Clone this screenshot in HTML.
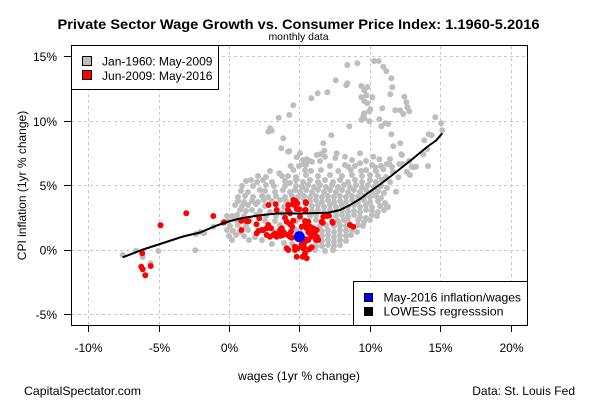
<!DOCTYPE html>
<html><head><meta charset="utf-8"><style>
html,body{margin:0;padding:0;background:#fff;}
svg{display:block;}
text{font-family:"Liberation Sans",Arial,sans-serif;fill:#000;}
</style></head><body>
<svg width="600" height="400" viewBox="0 0 600 400" xmlns="http://www.w3.org/2000/svg">
<rect width="600" height="400" fill="#fff"/>
<g stroke="#c8c8c8" stroke-width="1" stroke-dasharray="3,3" fill="none">
<line x1="88.5" y1="46" x2="88.5" y2="325"/>
<line x1="159.5" y1="46" x2="159.5" y2="325"/>
<line x1="229.5" y1="46" x2="229.5" y2="325"/>
<line x1="299.5" y1="46" x2="299.5" y2="325"/>
<line x1="370.5" y1="46" x2="370.5" y2="325"/>
<line x1="440.5" y1="46" x2="440.5" y2="325"/>
<line x1="511.5" y1="46" x2="511.5" y2="325"/>
<line x1="72" y1="56.5" x2="527" y2="56.5"/>
<line x1="72" y1="121.5" x2="527" y2="121.5"/>
<line x1="72" y1="185.5" x2="527" y2="185.5"/>
<line x1="72" y1="250.5" x2="527" y2="250.5"/>
<line x1="72" y1="314.5" x2="527" y2="314.5"/>
</g>
<g fill="#bebebe">
<circle cx="347.3" cy="65" r="3"/><circle cx="357.3" cy="63.3" r="3"/><circle cx="374" cy="61" r="3"/><circle cx="378.7" cy="61" r="3"/><circle cx="383.3" cy="66.7" r="3"/><circle cx="386.3" cy="71.3" r="3"/><circle cx="391.3" cy="78.3" r="3"/><circle cx="335.7" cy="80.3" r="3"/><circle cx="347.3" cy="83.3" r="3"/><circle cx="346.3" cy="85.3" r="3"/><circle cx="361.3" cy="86" r="3"/><circle cx="367.3" cy="87" r="3"/><circle cx="364.3" cy="90.3" r="3"/><circle cx="392.3" cy="87.3" r="3"/><circle cx="317.7" cy="93.3" r="3"/><circle cx="327.3" cy="92.3" r="3"/><circle cx="311.3" cy="98.3" r="3"/><circle cx="366.3" cy="95.3" r="3"/><circle cx="361.3" cy="97.3" r="3"/><circle cx="372.3" cy="97.3" r="3"/><circle cx="390.3" cy="94.3" r="3"/><circle cx="404.3" cy="96.7" r="3"/><circle cx="364.3" cy="101.3" r="3"/><circle cx="367.3" cy="103.3" r="3"/><circle cx="406.3" cy="102.3" r="3"/><circle cx="407.3" cy="107.3" r="3"/><circle cx="409.3" cy="111.3" r="3"/><circle cx="382.3" cy="108.3" r="3"/><circle cx="370.3" cy="109.3" r="3"/><circle cx="369.3" cy="111.3" r="3"/><circle cx="395.3" cy="110.3" r="3"/><circle cx="400.3" cy="110.3" r="3"/><circle cx="403.3" cy="114" r="3"/><circle cx="364.3" cy="113.3" r="3"/><circle cx="363.3" cy="116.3" r="3"/><circle cx="361.3" cy="120" r="3"/><circle cx="364.3" cy="118.3" r="3"/><circle cx="369.3" cy="121.3" r="3"/><circle cx="379.3" cy="119.3" r="3"/><circle cx="381.3" cy="126.3" r="3"/><circle cx="385.3" cy="123.3" r="3"/><circle cx="388.3" cy="124" r="3"/><circle cx="435.3" cy="117.3" r="3"/><circle cx="441.3" cy="123.3" r="3"/><circle cx="442.3" cy="130.3" r="3"/><circle cx="349.3" cy="126.3" r="3"/><circle cx="331.3" cy="135.3" r="3"/><circle cx="391.3" cy="134.3" r="3"/><circle cx="428.7" cy="134.3" r="3"/><circle cx="431.7" cy="135.3" r="3"/><circle cx="424.3" cy="140.3" r="3"/><circle cx="323.3" cy="143.3" r="3"/><circle cx="400.3" cy="143.3" r="3"/><circle cx="393.3" cy="146.3" r="3"/><circle cx="324.3" cy="150.7" r="3"/><circle cx="320.3" cy="154.3" r="3"/><circle cx="427.3" cy="149" r="3"/><circle cx="423.3" cy="154.3" r="3"/><circle cx="335.3" cy="158" r="3"/><circle cx="401.3" cy="154.3" r="3"/><circle cx="379.3" cy="159.3" r="3"/><circle cx="293.3" cy="105.3" r="3"/><circle cx="278.7" cy="117.7" r="3"/><circle cx="289.3" cy="115" r="3"/><circle cx="270" cy="128.3" r="3"/><circle cx="271.7" cy="130.7" r="3"/><circle cx="268.3" cy="131.7" r="3"/><circle cx="283.3" cy="138.3" r="3"/><circle cx="281.3" cy="148.3" r="3"/><circle cx="289.3" cy="151" r="3"/><circle cx="296.7" cy="157.3" r="3"/><circle cx="306.7" cy="159.3" r="3"/><circle cx="293.3" cy="170" r="3"/><circle cx="290.7" cy="166" r="3"/><circle cx="279.3" cy="173.3" r="3"/><circle cx="282" cy="176" r="3"/><circle cx="428" cy="166" r="3"/><circle cx="411.7" cy="166.7" r="3"/><circle cx="410" cy="175" r="3"/><circle cx="416" cy="166.7" r="3"/><circle cx="338.3" cy="171" r="3"/><circle cx="348.3" cy="166.7" r="3"/><circle cx="350.7" cy="170" r="3"/><circle cx="360" cy="163.3" r="3"/><circle cx="303.3" cy="164" r="3"/><circle cx="309.3" cy="160.7" r="3"/><circle cx="312" cy="161.7" r="3"/><circle cx="402" cy="155" r="3"/><circle cx="386.7" cy="164" r="3"/><circle cx="389.3" cy="164" r="3"/><circle cx="375.3" cy="167.3" r="3"/><circle cx="383.3" cy="169.3" r="3"/><circle cx="399.3" cy="164" r="3"/><circle cx="402.7" cy="164" r="3"/><circle cx="413.3" cy="167.3" r="3"/><circle cx="406.7" cy="171.7" r="3"/><circle cx="398.3" cy="177.3" r="3"/><circle cx="396" cy="191.7" r="3"/><circle cx="386.7" cy="206" r="3"/><circle cx="288" cy="151.7" r="3"/><circle cx="300" cy="153.3" r="3"/><circle cx="316.7" cy="155" r="3"/><circle cx="325" cy="156.7" r="3"/><circle cx="336.7" cy="153.3" r="3"/><circle cx="345" cy="156.7" r="3"/><circle cx="360" cy="153.3" r="3"/><circle cx="373.3" cy="156.7" r="3"/>
<circle cx="303" cy="160" r="3"/><circle cx="320" cy="161" r="3"/><circle cx="352" cy="160" r="3"/><circle cx="366" cy="161" r="3"/><circle cx="390" cy="159" r="3"/><circle cx="409" cy="161" r="3"/>
<circle cx="299" cy="166" r="3"/><circle cx="306" cy="165" r="3"/><circle cx="330" cy="166" r="3"/><circle cx="345" cy="165" r="3"/><circle cx="355" cy="166" r="3"/><circle cx="372" cy="165" r="3"/><circle cx="381" cy="166" r="3"/><circle cx="392" cy="167" r="3"/>
<circle cx="270" cy="171" r="3"/><circle cx="305" cy="170" r="3"/><circle cx="311" cy="171" r="3"/><circle cx="321" cy="170" r="3"/><circle cx="361" cy="171" r="3"/><circle cx="366" cy="170" r="3"/><circle cx="376" cy="171" r="3"/><circle cx="393" cy="172" r="3"/>
<circle cx="258" cy="176" r="3"/><circle cx="266" cy="177" r="3"/><circle cx="288" cy="176" r="3"/><circle cx="296" cy="177" r="3"/><circle cx="306" cy="175" r="3"/><circle cx="318" cy="176" r="3"/><circle cx="330" cy="175" r="3"/><circle cx="342" cy="176" r="3"/><circle cx="352" cy="175" r="3"/><circle cx="362" cy="176" r="3"/><circle cx="370" cy="175" r="3"/><circle cx="378" cy="176" r="3"/><circle cx="386" cy="177" r="3"/>
<circle cx="246" cy="181" r="3"/><circle cx="251" cy="180" r="3"/><circle cx="257" cy="182" r="3"/><circle cx="263" cy="180" r="3"/><circle cx="272" cy="182" r="3"/><circle cx="285" cy="181" r="3"/><circle cx="290" cy="183" r="3"/><circle cx="296" cy="180" r="3"/><circle cx="303" cy="182" r="3"/><circle cx="310" cy="180" r="3"/><circle cx="318" cy="182" r="3"/><circle cx="325" cy="180" r="3"/><circle cx="333" cy="182" r="3"/><circle cx="340" cy="180" r="3"/><circle cx="348" cy="182" r="3"/><circle cx="355" cy="180" r="3"/><circle cx="362" cy="182" r="3"/><circle cx="370" cy="180" r="3"/><circle cx="376" cy="182" r="3"/><circle cx="382" cy="180" r="3"/><circle cx="390" cy="182" r="3"/>
<circle cx="242" cy="186" r="3"/><circle cx="253" cy="186" r="3"/><circle cx="266" cy="185" r="3"/><circle cx="274" cy="186" r="3"/><circle cx="285" cy="186" r="3"/><circle cx="296" cy="186" r="3"/><circle cx="302" cy="187" r="3"/><circle cx="308" cy="185" r="3"/><circle cx="314" cy="187" r="3"/><circle cx="320" cy="185" r="3"/><circle cx="326" cy="187" r="3"/><circle cx="332" cy="185" r="3"/><circle cx="338" cy="187" r="3"/><circle cx="344" cy="185" r="3"/><circle cx="350" cy="187" r="3"/><circle cx="356" cy="185" r="3"/><circle cx="362" cy="187" r="3"/><circle cx="368" cy="185" r="3"/><circle cx="374" cy="187" r="3"/><circle cx="381" cy="186" r="3"/><circle cx="387" cy="188" r="3"/>
<circle cx="241" cy="191" r="3"/><circle cx="248" cy="192" r="3"/><circle cx="260" cy="190" r="3"/><circle cx="265" cy="191" r="3"/><circle cx="275" cy="192" r="3"/><circle cx="283" cy="190" r="3"/><circle cx="290" cy="192" r="3"/><circle cx="295" cy="190" r="3"/><circle cx="300" cy="192" r="3"/><circle cx="306" cy="190" r="3"/><circle cx="312" cy="192" r="3"/><circle cx="318" cy="190" r="3"/><circle cx="324" cy="192" r="3"/><circle cx="330" cy="190" r="3"/><circle cx="336" cy="192" r="3"/><circle cx="342" cy="190" r="3"/><circle cx="348" cy="192" r="3"/><circle cx="354" cy="190" r="3"/><circle cx="360" cy="192" r="3"/><circle cx="366" cy="190" r="3"/><circle cx="372" cy="192" r="3"/><circle cx="378" cy="191" r="3"/><circle cx="384" cy="193" r="3"/>
<circle cx="238" cy="197" r="3"/><circle cx="245" cy="196" r="3"/><circle cx="253" cy="197" r="3"/><circle cx="262" cy="196" r="3"/><circle cx="268" cy="197" r="3"/><circle cx="276" cy="196" r="3"/><circle cx="285" cy="197" r="3"/><circle cx="292" cy="196" r="3"/><circle cx="298" cy="197" r="3"/><circle cx="304" cy="196" r="3"/><circle cx="310" cy="197" r="3"/><circle cx="316" cy="196" r="3"/><circle cx="322" cy="197" r="3"/><circle cx="328" cy="196" r="3"/><circle cx="334" cy="197" r="3"/><circle cx="340" cy="196" r="3"/><circle cx="346" cy="197" r="3"/><circle cx="352" cy="196" r="3"/><circle cx="358" cy="197" r="3"/><circle cx="364" cy="196" r="3"/><circle cx="370" cy="197" r="3"/><circle cx="376" cy="196" r="3"/><circle cx="381" cy="198" r="3"/>
<circle cx="238" cy="201" r="3"/><circle cx="244" cy="202" r="3"/><circle cx="252" cy="201" r="3"/><circle cx="258" cy="202" r="3"/><circle cx="264" cy="200" r="3"/><circle cx="272" cy="201" r="3"/><circle cx="280" cy="200" r="3"/><circle cx="286" cy="201" r="3"/><circle cx="304" cy="199" r="3"/><circle cx="310" cy="201" r="3"/><circle cx="316" cy="200" r="3"/><circle cx="322" cy="202" r="3"/><circle cx="328" cy="200" r="3"/><circle cx="334" cy="202" r="3"/><circle cx="340" cy="201" r="3"/><circle cx="346" cy="202" r="3"/><circle cx="352" cy="200" r="3"/><circle cx="358" cy="202" r="3"/><circle cx="364" cy="200" r="3"/><circle cx="370" cy="202" r="3"/><circle cx="378" cy="201" r="3"/><circle cx="385" cy="203" r="3"/>
<circle cx="235" cy="205" r="3"/><circle cx="242" cy="206" r="3"/><circle cx="248" cy="205" r="3"/><circle cx="256" cy="204" r="3"/><circle cx="265" cy="206" r="3"/><circle cx="284" cy="207" r="3"/><circle cx="312" cy="206" r="3"/><circle cx="318" cy="205" r="3"/><circle cx="324" cy="207" r="3"/><circle cx="330" cy="205" r="3"/><circle cx="336" cy="207" r="3"/><circle cx="342" cy="205" r="3"/><circle cx="348" cy="207" r="3"/><circle cx="354" cy="205" r="3"/><circle cx="360" cy="207" r="3"/><circle cx="366" cy="205" r="3"/><circle cx="372" cy="207" r="3"/><circle cx="380" cy="206" r="3"/><circle cx="388" cy="207" r="3"/>
<circle cx="240" cy="210" r="3"/><circle cx="246" cy="211" r="3"/><circle cx="252" cy="210" r="3"/><circle cx="260" cy="211" r="3"/><circle cx="270" cy="212" r="3"/><circle cx="282" cy="213" r="3"/><circle cx="312" cy="211" r="3"/><circle cx="318" cy="210" r="3"/><circle cx="324" cy="212" r="3"/><circle cx="330" cy="210" r="3"/><circle cx="336" cy="212" r="3"/><circle cx="342" cy="210" r="3"/><circle cx="348" cy="212" r="3"/><circle cx="354" cy="211" r="3"/><circle cx="360" cy="212" r="3"/><circle cx="366" cy="210" r="3"/><circle cx="372" cy="211" r="3"/><circle cx="378" cy="212" r="3"/><circle cx="384" cy="210" r="3"/>
<circle cx="232" cy="216" r="3"/><circle cx="237" cy="215" r="3"/><circle cx="244" cy="216" r="3"/><circle cx="256" cy="215" r="3"/><circle cx="266" cy="216" r="3"/><circle cx="276" cy="216" r="3"/><circle cx="310" cy="216" r="3"/><circle cx="316" cy="215" r="3"/><circle cx="336" cy="216" r="3"/><circle cx="342" cy="215" r="3"/><circle cx="348" cy="217" r="3"/><circle cx="354" cy="215" r="3"/><circle cx="360" cy="217" r="3"/><circle cx="366" cy="218" r="3"/><circle cx="372" cy="215" r="3"/><circle cx="377" cy="216" r="3"/>
<circle cx="227" cy="216" r="3"/><circle cx="228" cy="221" r="3"/><circle cx="236" cy="220" r="3"/><circle cx="241" cy="221" r="3"/><circle cx="250" cy="220" r="3"/><circle cx="275" cy="221" r="3"/><circle cx="296" cy="221" r="3"/><circle cx="316" cy="220" r="3"/><circle cx="338" cy="221" r="3"/><circle cx="344" cy="220" r="3"/><circle cx="348" cy="222" r="3"/><circle cx="358" cy="220" r="3"/><circle cx="364" cy="222" r="3"/><circle cx="370" cy="220" r="3"/>
<circle cx="223" cy="223" r="3"/><circle cx="230" cy="226" r="3"/><circle cx="238" cy="225" r="3"/><circle cx="246" cy="226" r="3"/><circle cx="280" cy="225" r="3"/><circle cx="296" cy="230" r="3"/><circle cx="320" cy="226" r="3"/><circle cx="326" cy="225" r="3"/><circle cx="334" cy="226" r="3"/><circle cx="340" cy="225" r="3"/><circle cx="346" cy="226" r="3"/><circle cx="358" cy="225" r="3"/><circle cx="363" cy="226" r="3"/>
<circle cx="227" cy="230" r="3"/><circle cx="233" cy="231" r="3"/><circle cx="240" cy="232" r="3"/><circle cx="248" cy="230" r="3"/><circle cx="322" cy="231" r="3"/><circle cx="328" cy="230" r="3"/><circle cx="334" cy="232" r="3"/><circle cx="340" cy="230" r="3"/><circle cx="346" cy="231" r="3"/><circle cx="352" cy="230" r="3"/><circle cx="357" cy="232" r="3"/>
<circle cx="229" cy="236" r="3"/><circle cx="236" cy="235" r="3"/><circle cx="244" cy="236" r="3"/><circle cx="322" cy="236" r="3"/><circle cx="328" cy="235" r="3"/><circle cx="334" cy="237" r="3"/><circle cx="340" cy="235" r="3"/><circle cx="346" cy="236" r="3"/><circle cx="351" cy="235" r="3"/>
<circle cx="232" cy="240" r="3"/><circle cx="249" cy="240" r="3"/><circle cx="322" cy="241" r="3"/><circle cx="328" cy="240" r="3"/><circle cx="334" cy="242" r="3"/><circle cx="340" cy="240" r="3"/><circle cx="346" cy="241" r="3"/>
<circle cx="316" cy="246" r="3"/><circle cx="322" cy="246" r="3"/><circle cx="328" cy="245" r="3"/><circle cx="334" cy="246" r="3"/><circle cx="340" cy="245" r="3"/>
<circle cx="315" cy="250" r="3"/><circle cx="325" cy="251" r="3"/><circle cx="333" cy="250" r="3"/>
<circle cx="262" cy="240" r="3"/><circle cx="272" cy="244" r="3"/><circle cx="284" cy="243" r="3"/><circle cx="292" cy="244" r="3"/><circle cx="300" cy="232" r="3"/><circle cx="265" cy="221" r="3"/><circle cx="255" cy="237" r="3"/>
<circle cx="122.7" cy="255" r="3"/><circle cx="136" cy="250.7" r="3"/><circle cx="142.7" cy="257" r="3"/><circle cx="158.3" cy="251" r="3"/><circle cx="150.5" cy="263.3" r="3"/><circle cx="195.3" cy="250.3" r="3"/><circle cx="196" cy="234" r="3"/><circle cx="204" cy="233.3" r="3"/><circle cx="213.3" cy="226.7" r="3"/><circle cx="200" cy="232" r="3"/>
</g>
<g fill="#ff0000">
<circle cx="142.3" cy="253.3" r="3"/><circle cx="141.3" cy="266.7" r="3"/><circle cx="142.7" cy="269.3" r="3"/><circle cx="150.7" cy="266" r="3"/><circle cx="145.3" cy="275.3" r="3"/><circle cx="160.5" cy="225.2" r="3"/><circle cx="186.3" cy="213.3" r="3"/><circle cx="213.3" cy="216" r="3"/><circle cx="224" cy="222.3" r="3"/>
<circle cx="241.5" cy="230" r="3"/><circle cx="246.7" cy="221.3" r="3"/><circle cx="256.5" cy="224.2" r="3"/><circle cx="241.3" cy="220.7" r="3"/><circle cx="248.3" cy="221.3" r="3"/><circle cx="256.7" cy="233.3" r="3"/><circle cx="263.3" cy="230" r="3"/><circle cx="266.7" cy="228.3" r="3"/>
<circle cx="268.5" cy="205" r="3"/><circle cx="275.7" cy="204.3" r="3"/><circle cx="276.7" cy="210" r="3"/><circle cx="288.3" cy="205" r="3"/><circle cx="293.3" cy="200" r="3"/><circle cx="296" cy="201.7" r="3"/><circle cx="295" cy="205" r="3"/><circle cx="296.7" cy="209" r="3"/><circle cx="305.7" cy="202.3" r="3"/><circle cx="305.7" cy="210" r="3"/><circle cx="288.3" cy="211" r="3"/><circle cx="285" cy="217.7" r="3"/><circle cx="300" cy="216.7" r="3"/><circle cx="305" cy="221" r="3"/><circle cx="308.3" cy="221.7" r="3"/><circle cx="321.7" cy="221.7" r="3"/><circle cx="323.3" cy="216.7" r="3"/><circle cx="329" cy="215.7" r="3"/><circle cx="332.3" cy="221.7" r="3"/>
<circle cx="259.3" cy="218.3" r="3"/><circle cx="261.7" cy="230" r="3"/><circle cx="258.3" cy="231" r="3"/><circle cx="268.3" cy="225" r="3"/><circle cx="271" cy="228.3" r="3"/><circle cx="266.7" cy="235" r="3"/><circle cx="275" cy="233.3" r="3"/><circle cx="277.7" cy="235" r="3"/><circle cx="281" cy="235.7" r="3"/><circle cx="284.3" cy="233.3" r="3"/><circle cx="287.7" cy="235" r="3"/><circle cx="291" cy="231.7" r="3"/><circle cx="291.7" cy="237.7" r="3"/><circle cx="281.7" cy="228.3" r="3"/><circle cx="290" cy="224.3" r="3"/><circle cx="292.3" cy="226.7" r="3"/><circle cx="301.7" cy="226.7" r="3"/><circle cx="305" cy="225" r="3"/><circle cx="306.7" cy="228.3" r="3"/><circle cx="310" cy="226.7" r="3"/><circle cx="313.3" cy="228.3" r="3"/><circle cx="316.7" cy="230" r="3"/><circle cx="308.3" cy="232.3" r="3"/><circle cx="311.7" cy="233.3" r="3"/><circle cx="315" cy="231.7" r="3"/><circle cx="311" cy="236.7" r="3"/><circle cx="316.7" cy="236.7" r="3"/><circle cx="318.3" cy="240" r="3"/><circle cx="308.3" cy="240" r="3"/><circle cx="305" cy="241.7" r="3"/><circle cx="301.7" cy="244.3" r="3"/><circle cx="303.3" cy="248.3" r="3"/><circle cx="297.7" cy="248.3" r="3"/><circle cx="309.3" cy="249.3" r="3"/><circle cx="305" cy="253.3" r="3"/><circle cx="295" cy="250" r="3"/><circle cx="288.3" cy="250" r="3"/><circle cx="296.7" cy="256.7" r="3"/><circle cx="302.7" cy="256.7" r="3"/><circle cx="306.7" cy="258.3" r="3"/>
<circle cx="350" cy="225" r="3"/><circle cx="353.3" cy="226.7" r="3"/><circle cx="327.3" cy="216" r="3"/><circle cx="332.7" cy="222.7" r="3"/><circle cx="322.7" cy="222.7" r="3"/><circle cx="295" cy="200.7" r="3"/><circle cx="292.7" cy="204.3" r="3"/><circle cx="297.3" cy="203.3" r="3"/><circle cx="306" cy="203.3" r="3"/><circle cx="305" cy="210" r="3"/><circle cx="288" cy="210" r="3"/><circle cx="290" cy="213.3" r="3"/><circle cx="299.3" cy="209.3" r="3"/><circle cx="293.3" cy="220.7" r="3"/><circle cx="286.7" cy="221.7" r="3"/>
<circle cx="280" cy="230" r="3"/><circle cx="283.3" cy="231.7" r="3"/><circle cx="290" cy="236.7" r="3"/><circle cx="282.7" cy="235" r="3"/><circle cx="286.7" cy="248.3" r="3"/><circle cx="295" cy="246.7" r="3"/><circle cx="304" cy="246.7" r="3"/><circle cx="311.7" cy="247.3" r="3"/><circle cx="316" cy="240" r="3"/><circle cx="302" cy="238.3" r="3"/><circle cx="306" cy="239.3" r="3"/><circle cx="270" cy="236.7" r="3"/><circle cx="273.3" cy="235" r="3"/><circle cx="276.7" cy="236.7" r="3"/>
</g>
<circle cx="299.3" cy="236.7" r="5.6" fill="#0000ff"/>
<path d="M122.7,257.3 L143,249.5 L160,244 L183,236.5 L200,232.5 L216.7,225.5 L230,221 L240,218.5 L260,215.2 L277,213.5 L300,213.5 L328,212.7 L340,210 L350,205 L360,199 L370,191.5 L380,184.5 L393,174.5 L410,161 L427,147 L436,140.5 L442.3,133.3" fill="none" stroke="#000" stroke-width="2"/>
<rect x="71.5" y="45.5" width="456" height="280" fill="none" stroke="#000" stroke-width="1"/>
<g stroke="#000" stroke-width="1">
<line x1="64" y1="56.5" x2="71.5" y2="56.5"/>
<line x1="64" y1="121.5" x2="71.5" y2="121.5"/>
<line x1="64" y1="185.5" x2="71.5" y2="185.5"/>
<line x1="64" y1="250.5" x2="71.5" y2="250.5"/>
<line x1="64" y1="314.5" x2="71.5" y2="314.5"/>
<line x1="88.5" y1="325.5" x2="88.5" y2="332"/>
<line x1="159.5" y1="325.5" x2="159.5" y2="332"/>
<line x1="229.5" y1="325.5" x2="229.5" y2="332"/>
<line x1="299.5" y1="325.5" x2="299.5" y2="332"/>
<line x1="370.5" y1="325.5" x2="370.5" y2="332"/>
<line x1="440.5" y1="325.5" x2="440.5" y2="332"/>
<line x1="511.5" y1="325.5" x2="511.5" y2="332"/>
</g>
<g font-size="12" text-anchor="end">
<text x="57" y="61.2">15%</text>
<text x="57" y="126">10%</text>
<text x="57" y="190">5%</text>
<text x="57" y="254.6">0%</text>
<text x="57" y="318.8">-5%</text>
</g>
<g font-size="12" text-anchor="middle">
<text x="88.5" y="352">-10%</text>
<text x="159.5" y="352">-5%</text>
<text x="229.5" y="352">0%</text>
<text x="299.5" y="352">5%</text>
<text x="370.5" y="352">10%</text>
<text x="440.5" y="352">15%</text>
<text x="511.5" y="352">20%</text>
</g>
<text x="298.5" y="29" font-size="14" font-weight="bold" text-anchor="middle" textLength="482" lengthAdjust="spacingAndGlyphs">Private Sector Wage Growth vs. Consumer Price Index: 1.1960-5.2016</text>
<text x="298.5" y="40" font-size="10.5" text-anchor="middle">monthly data</text>
<text x="299" y="380" font-size="12" text-anchor="middle" textLength="122" lengthAdjust="spacingAndGlyphs">wages (1yr % change)</text>
<text transform="translate(26,185.5) rotate(-90)" font-size="12" text-anchor="middle">CPI inflation (1yr % change)</text>
<text x="24" y="395" font-size="12" textLength="117" lengthAdjust="spacingAndGlyphs">CapitalSpectator.com</text>
<text x="575" y="395" font-size="12" text-anchor="end">Data: St. Louis Fed</text>
<rect x="71.5" y="45.5" width="147" height="44" fill="#fff" stroke="#000" stroke-width="1"/>
<rect x="82.5" y="56.5" width="9" height="9" fill="#bebebe" stroke="#000" stroke-width="1"/>
<rect x="82.5" y="70.5" width="9" height="9" fill="#ff0000" stroke="#000" stroke-width="1"/>
<text x="102" y="65.3" font-size="12" textLength="110.5" lengthAdjust="spacingAndGlyphs">Jan-1960: May-2009</text>
<text x="102" y="79.8" font-size="12" textLength="110.5" lengthAdjust="spacingAndGlyphs">Jun-2009: May-2016</text>
<rect x="353.5" y="281.5" width="174" height="44" fill="#fff" stroke="#000" stroke-width="1"/>
<rect x="364.5" y="293.5" width="8" height="8" fill="#0000ff" stroke="#000" stroke-width="1"/>
<rect x="364.5" y="307.5" width="8" height="8" fill="#000" stroke="#000" stroke-width="1"/>
<text x="383.5" y="301.7" font-size="12" textLength="137.5" lengthAdjust="spacingAndGlyphs">May-2016 inflation/wages</text>
<text x="383.5" y="315.7" font-size="12" textLength="120" lengthAdjust="spacingAndGlyphs">LOWESS regresssion</text>
</svg>
</body></html>
